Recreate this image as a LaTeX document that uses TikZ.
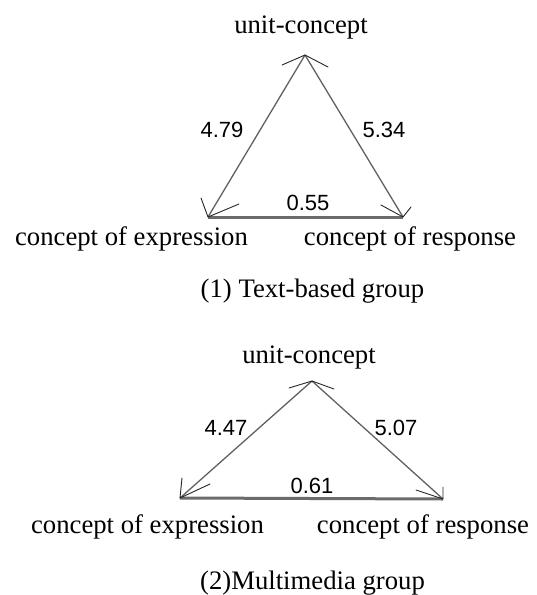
\documentclass[tikz,border=0pt]{standalone}
\usepackage{fontspec}
\setmainfont{Liberation Serif}
\newfontfamily\numfont{Liberation Sans}
\tikzset{
  lbl/.style={inner sep=0pt, anchor=base, font=\fontsize{26.7}{30}\selectfont},
  num/.style={inner sep=0pt, anchor=base, font=\numfont\fontsize{22}{26}\selectfont},
  edge/.style={draw=black!62, line width=1.3pt},
  baseline/.style={draw=black!58, line width=3pt},
  chev/.style={draw=black!85, line width=0.9pt, line cap=round}
}
\begin{document}
\begin{tikzpicture}[x=1pt, y=-1pt]
\useasboundingbox (0,0) rectangle (537,595);
% ---------- (1) Text-based group ----------
\coordinate (a1) at (305,55);
\coordinate (l1) at (208,217);
\coordinate (r1) at (403,217);
\draw[baseline] (l1) -- (r1);
\draw[edge] (a1) -- (l1);
\draw[edge] (a1) -- (r1);
\draw[chev] (a1) -- ++(-23,10) (a1) -- ++(23,12);
\draw[chev] (l1) -- ++(-7,-19) (l1) -- ++(31,-13);
\draw[chev] (r1) -- ++(-22,-12) (r1) -- ++(8,-10);
\node[lbl] (u1) at (301,33) {unit-concept};
\node[lbl] (e1) at (131.5,245) {concept of expression};
\node[lbl] (s1) at (410,245) {concept of response};
\node[lbl] (c1) at (312.5,297) {(1) Text-based group};
\node[num] (n1) at (222,137) {4.79};
\node[num] (n2) at (384,137) {5.34};
\node[num] (n3) at (308,210) {0.55};
% ---------- (2) Multimedia group ----------
\coordinate (a2) at (312,381);
\coordinate (l2) at (180,498);
\coordinate (r2) at (443,499);
\draw[baseline] (l2) -- (r2);
\draw[edge] (a2) -- (l2);
\draw[edge] (a2) -- (r2);
\draw[chev] (a2) -- ++(-23,7) (a2) -- ++(22,8);
\draw[chev] (l2) -- ++(2,-20) (l2) -- ++(30,-14);
\draw[chev] (r2) -- ++(0,-12) (r2) -- ++(-27,-9);
\node[lbl] (u2) at (309,363) {unit-concept};
\node[lbl] (e2) at (147.5,533) {concept of expression};
\node[lbl] (s2) at (423,533) {concept of response};
\node[lbl] (c2) at (312.5,589) {(2)Multimedia group};
\node[num] (n4) at (226,435) {4.47};
\node[num] (n5) at (396,435) {5.07};
\node[num] (n6) at (312,493) {0.61};
\end{tikzpicture}
\end{document}
